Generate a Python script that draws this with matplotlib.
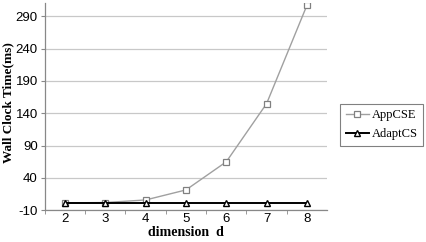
import matplotlib
matplotlib.use('Agg')
import matplotlib.pyplot as plt

plt.rcParams['axes.unicode_minus'] = False

# data
dims = [2, 3, 4, 5, 6, 7, 8]
appcse = [1.5, 2, 6, 21.5, 65, 155, 307]
adaptcs = [1, 1, 1, 1, 1, 1, 1]
yticks = [-10, 40, 90, 140, 190, 240, 290]

fig = plt.figure(figsize=(4.27, 2.42), dpi=100)
ax = fig.add_axes([0.105, 0.131, 0.661, 0.855])

ax.plot(dims, appcse, color='#a0a0a0', lw=1.0, marker='s', ms=5,
        mfc='white', mec='#808080', mew=0.9, label='AppCSE', zorder=3)
ax.plot(dims, adaptcs, color='black', lw=1.4, marker='^', ms=5,
        mfc='white', mec='black', mew=1.0, label='AdaptCS', zorder=4)

ax.set_xlim(1.5, 8.5)
ax.set_ylim(-10, 310)
ax.set_yticks(yticks)
ax.set_xticks(dims)
ax.set_xticks([d + 0.5 for d in dims[:-1]] + [1.5], minor=True)
ax.tick_params(axis='x', which='major', length=0, labelsize=9.5, pad=2)
ax.tick_params(axis='x', which='minor', length=3, color='#888888')
ax.tick_params(axis='y', length=3, color='#888888', labelsize=9.5, pad=2)
for t in ax.get_xticklabels() + ax.get_yticklabels():
    t.set_family('Liberation Sans')

ax.grid(axis='y', color='#c8c8c8', lw=0.9)
ax.set_axisbelow(True)
for s in ['top', 'right']:
    ax.spines[s].set_visible(False)
for s in ['left', 'bottom']:
    ax.spines[s].set_color('#888888')
    ax.spines[s].set_linewidth(0.9)

ax.set_xlabel('dimension  d', family='Liberation Serif', fontweight='bold',
              fontsize=10, labelpad=1)
ax.set_ylabel('Wall Clock Time(ms)', family='Liberation Serif',
              fontweight='bold', fontsize=9.5)
ax.yaxis.set_label_coords(-0.11, 0.52)

leg = fig.legend(loc='upper left', bbox_to_anchor=(0.796, 0.572),
                 prop={'family': 'Liberation Serif', 'size': 9},
                 frameon=True, fancybox=False, edgecolor='#606060',
                 handlelength=1.9, borderpad=0.45, labelspacing=0.55,
                 handletextpad=0.2, borderaxespad=0)
leg.get_frame().set_linewidth(0.8)

fig.savefig('out.png', dpi=100)
